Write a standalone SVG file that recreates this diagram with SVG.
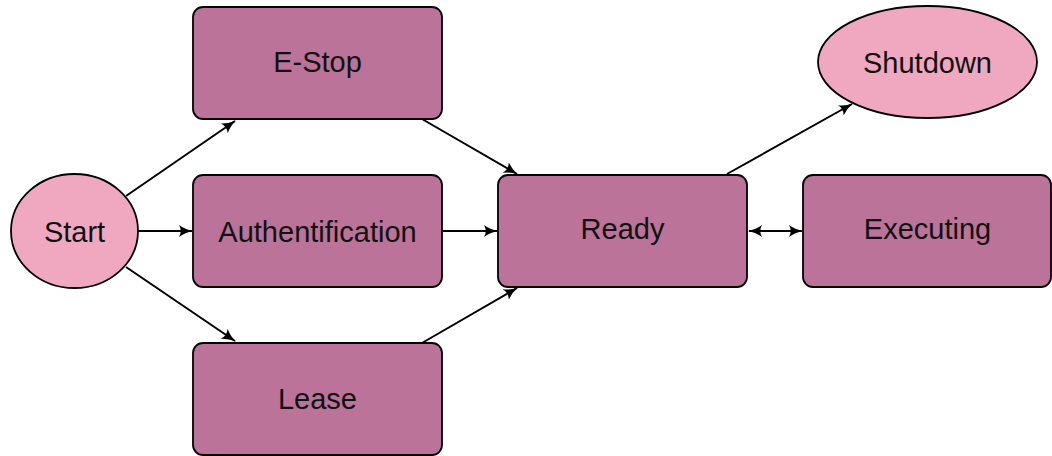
<svg xmlns="http://www.w3.org/2000/svg" width="1052" height="456" viewBox="0 0 1052 456">
<style>
.box{fill:#bb7399;stroke:#000;stroke-width:1.8}
.ell{fill:#f0a8c0;stroke:#000;stroke-width:1.8}
.lbl{font-family:"Liberation Sans",Arial,sans-serif;font-size:29px;fill:#111;text-anchor:middle;dominant-baseline:central}
.edge{stroke:#000;stroke-width:2;fill:none;marker-end:url(#ah)}
</style>
<defs>
<marker id="ah" viewBox="0 0 14 12" refX="13" refY="6" markerWidth="14" markerHeight="12" markerUnits="userSpaceOnUse" orient="auto-start-reverse">
<path d="M0,0 Q6,4.5 14,6 Q6,7.5 0,12 Q3.5,6 0,0 Z" fill="#000"/>
</marker>
</defs>
<g id="connectors">
<line class="edge" x1="126" y1="196" x2="235" y2="121"/>
<line class="edge" x1="138" y1="231" x2="192" y2="231"/>
<line class="edge" x1="126" y1="267" x2="235" y2="341"/>
<line class="edge" x1="422" y1="119" x2="517" y2="174"/>
<line class="edge" x1="443" y1="231" x2="497" y2="231"/>
<line class="edge" x1="422" y1="343" x2="517" y2="288"/>
<line class="edge" x1="727" y1="174" x2="852" y2="104"/>
<line class="edge" x1="749" y1="231" x2="802" y2="231" style="marker-start:url(#ah)"/>
</g>
<g id="start"><ellipse class="ell" cx="74.5" cy="231" rx="63.5" ry="57"/><text class="lbl" x="74.5" y="232">Start</text></g>
<g id="estop"><rect class="box" x="193" y="7" width="249" height="112" rx="10"/><text class="lbl" x="317.5" y="62">E-Stop</text></g>
<g id="auth"><rect class="box" x="193" y="175" width="249" height="112" rx="10"/><text class="lbl" x="317.5" y="232">Authentification</text></g>
<g id="lease"><rect class="box" x="193" y="343" width="249" height="112" rx="10"/><text class="lbl" x="317.5" y="399">Lease</text></g>
<g id="ready"><rect class="box" x="498" y="175" width="249" height="112" rx="10"/><text class="lbl" x="622.5" y="229">Ready</text></g>
<g id="executing"><rect class="box" x="803" y="175" width="248" height="112" rx="10"/><text class="lbl" x="927.5" y="229">Executing</text></g>
<g id="shutdown"><ellipse class="ell" cx="927.5" cy="62" rx="109.5" ry="56"/><text class="lbl" x="927.5" y="63">Shutdown</text></g>
</svg>
